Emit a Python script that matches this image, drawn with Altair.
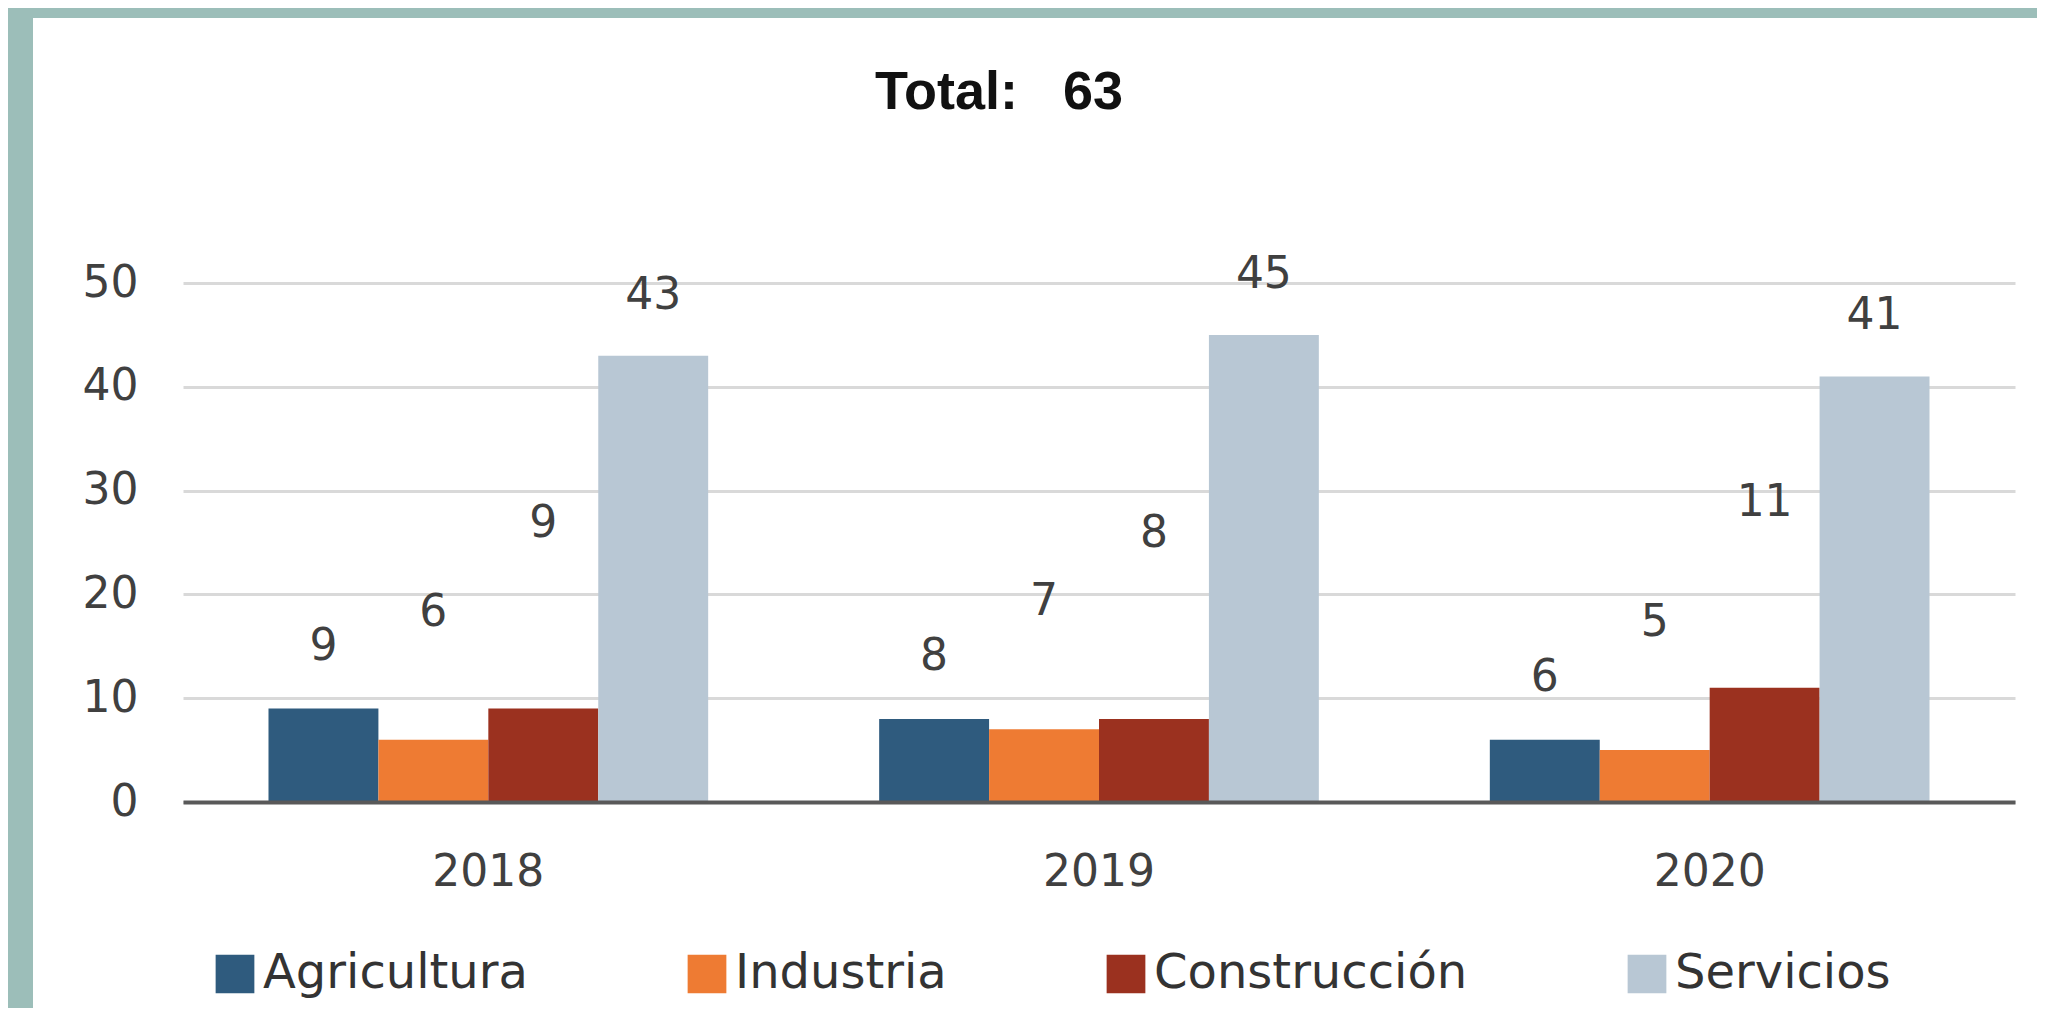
import altair as alt
import pandas as pd

# ---- data ----
years = ["2018", "2019", "2020"]
sectors = ["Agricultura", "Industria", "Construcción", "Servicios"]
agricultura = [9, 8, 6]
industria = [6, 7, 5]
construccion = [9, 8, 11]
servicios = [43, 45, 41]
y_ticks = [0, 10, 20, 30, 40, 50]
title_text = "Total:\u00a0\u00a0\u00a063"

# ---- styles ----
colors = ["#2f5b7e", "#ee7b33", "#9b311f", "#b8c7d4"]
label_lift = {"Agricultura": 62, "Industria": 127, "Construcción": 185, "Servicios": 60}
FONT = "DejaVu Sans"
TXT = "#404040"
FRAME = "#9cbeb9"

rows = []
for s, vals in zip(sectors, [agricultura, industria, construccion, servicios]):
    for yr, v in zip(years, vals):
        rows.append({"year": yr, "sector": s, "value": v})
df = pd.DataFrame(rows)

PAD_L, PAD_T = 175, 275
W, H = 1832, 519
TOTAL_W, TOTAL_H = 2029, 1000

x_enc = alt.X(
    "year:N", sort=years,
    scale=alt.Scale(paddingInner=0.28, paddingOuter=0.14),
    axis=alt.Axis(title=None, labelAngle=0, ticks=False, domain=True,
                  domainColor="#595959", domainWidth=4, grid=False,
                  labelFont=FONT, labelFontSize=44, labelColor=TXT,
                  labelPadding=48, zindex=1),
)
xoff = alt.XOffset("sector:N", sort=sectors,
                   scale=alt.Scale(domain=sectors, paddingInner=0, paddingOuter=0))
y_enc = alt.Y(
    "value:Q",
    scale=alt.Scale(domain=[0, 50], nice=False),
    axis=alt.Axis(title=None, values=y_ticks, ticks=False, domain=False,
                  grid=True, gridColor="#d9d9d9", gridWidth=3,
                  labelFont=FONT, labelFontSize=44, labelColor=TXT,
                  labelPadding=45),
)

one = alt.Data(values=[{"a": 1}])
strip_left = alt.Chart(one).mark_rect(color=FRAME).encode(
    x=alt.value(-PAD_L), x2=alt.value(-150),
    y=alt.value(-PAD_T), y2=alt.value(TOTAL_H - PAD_T),
)
strip_top = alt.Chart(one).mark_rect(color=FRAME).encode(
    x=alt.value(-PAD_L), x2=alt.value(TOTAL_W - PAD_L),
    y=alt.value(-PAD_T), y2=alt.value(-265),
)

bars = alt.Chart(df).mark_bar().encode(
    x=x_enc, xOffset=xoff, y=y_enc,
    color=alt.Color(
        "sector:N",
        scale=alt.Scale(domain=sectors, range=colors),
        legend=alt.Legend(orient="none", legendX=28, legendY=667,
                          direction="horizontal", columns=4, columnPadding=155,
                          title=None, symbolType="square", symbolSize=1500,
                          symbolStrokeWidth=0, symbolOpacity=1,
                          labelFont=FONT, labelFontSize=48, labelColor="#333333",
                          labelOffset=4, labelLimit=0),
    ),
)

texts = []
for s in sectors:
    texts.append(
        alt.Chart(df).transform_filter(alt.datum.sector == s)
        .mark_text(dy=-label_lift[s], baseline="middle", font=FONT,
                   fontSize=44, color=TXT)
        .encode(x=x_enc, xOffset=xoff, y=y_enc, text="value:Q")
    )

chart = alt.layer(strip_left, strip_top, bars, *texts).properties(
    width=W, height=H,
    title=alt.TitleParams(text=title_text, font="Liberation Sans", fontSize=54,
                          fontWeight="bold", color="#111111", anchor="middle",
                          frame="group", dx=-100, offset=0,
                          baseline="alphabetic", dy=155),
    background="white",
    padding={"left": PAD_L, "top": PAD_T, "right": TOTAL_W - PAD_L - W,
             "bottom": TOTAL_H - PAD_T - H},
    autosize=alt.AutoSizeParams(type="none"),
).configure_view(stroke=None)

chart.save("out.html", embed_options={"renderer": "svg", "actions": False})
